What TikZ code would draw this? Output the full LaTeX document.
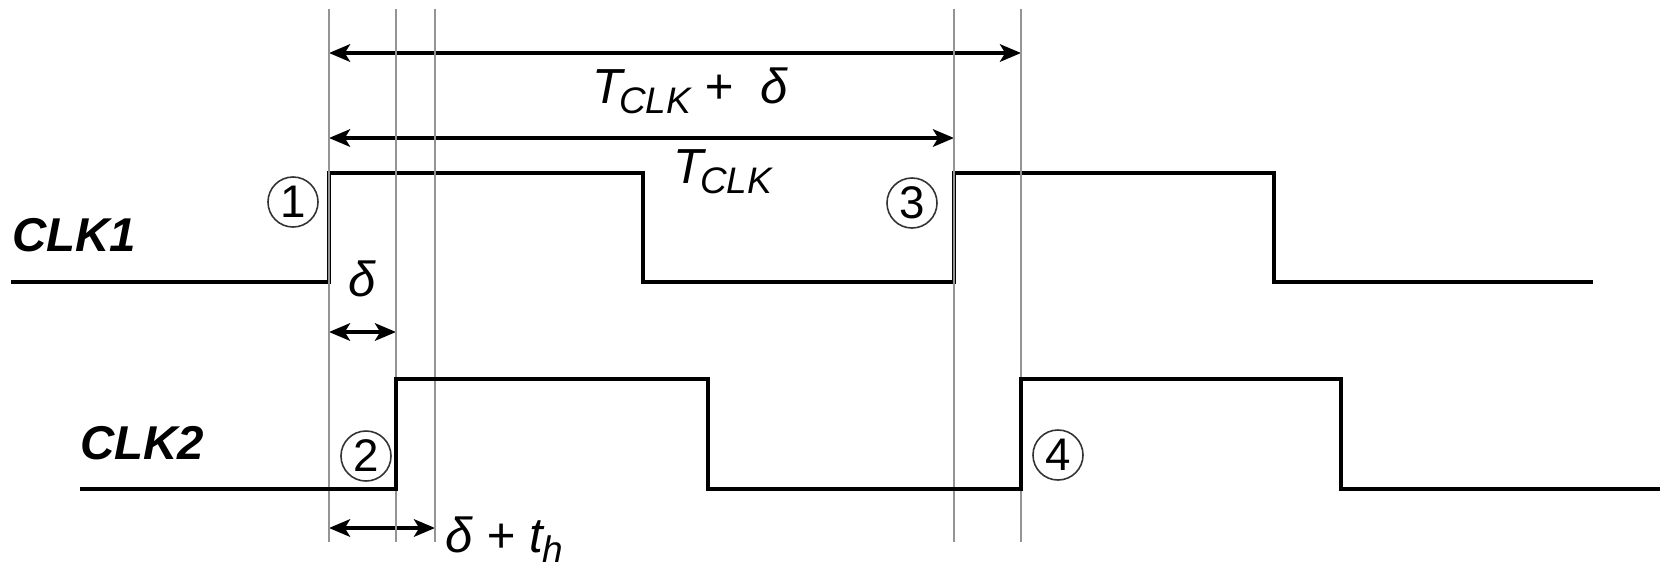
\documentclass[tikz,border=0pt]{standalone}
\usepackage{fontspec}
\setmainfont{Liberation Sans}
\usepackage{tikz}
\usetikzlibrary{arrows.meta, positioning}

\newcommand{\lowsub}[1]{\raisebox{-0.1cm}{\fontsize{10.5}{12}\selectfont #1}}

\begin{document}
\begin{tikzpicture}[x=0.01cm, y=-0.01cm]
	
	\tikzset{guide line/.style={draw=black!42, line width=0.7pt},
		signal line/.style={draw=black, line width=0.95pt},
		span arrow/.style={draw=black, line width=0.95pt,
			{Stealth[length=6pt, width=5pt, inset=1.5pt]}-{Stealth[length=6pt, width=5pt, inset=1.5pt]}
		},
		circled num/.style={circle, draw=black!80, line width=0.45pt,
			minimum size=0.5cm, inner sep=0pt,
			font=\fontsize{13}{13}\selectfont
		},
		clk label/.style={font=\fontsize{13.5}{15}\selectfont\bfseries\itshape},
		time label/.style={inner sep=0pt, font=\fontsize{14}{16}\selectfont\itshape}
	}
	
	\useasboundingbox (0,0) rectangle (1663,569);
	
	\draw[signal line] (11,282) -- (329,282) -- (329,173) -- (643,173) -- (643,282)
		-- (954,282) -- (954,173) -- (1274,173) -- (1274,282) -- (1593,282);
	
	\coordinate (a1) at (329,53);
	\coordinate (b1) at (1021,53);
	\coordinate (a2) at (329,138);
	\coordinate (b2) at (954,138);
	\coordinate (a3) at (329,332);
	\coordinate (b3) at (396,332);
	\coordinate (a4) at (329,528);
	\coordinate (b4) at (435,528);
	
	\draw[span arrow] (a1) -- (b1);
	\draw[span arrow] (a2) -- (b2);
	\draw[span arrow] (a3) -- (b3);
	\draw[span arrow] (a4) -- (b4);
	
	\foreach \x/\n in {329/1, 396/2, 435/3, 954/4, 1021/5} {
		\coordinate (top\n) at (\x,9);
		\coordinate (bot\n) at (\x,542);
		\draw[guide line] (top\n) -- (bot\n);
	}
	
	\draw[signal line] (80,489) -- (396,489) -- (396,379) -- (708,379) -- (708,489)
		-- (1021,489) -- (1021,379) -- (1341,379) -- (1341,489) -- (1660,489);
	
	\node[clk label] (clk1) at (74,235) {CLK1};
	\node[clk label] (clk2) at (142,443) {CLK2};
	
	\node[circled num] (n1) at (293,202) {1};
	\node[circled num] (n2) at (366,456) {2};
	\node[circled num] (n3) at (912,203) {3};
	\node[circled num] (n4) at (1058,455) {4};
	
	\node[time label, anchor=base west] (tsum) at (592,103) {T\kern-1pt\lowsub{CLK} +\hspace{0.27cm}δ};
	\node[time label, anchor=base west] (tclk) at (673,183) {T\kern-1pt\lowsub{CLK}};
	\node[time label] (dlt) at (362,279) {δ};
	\node[time label, anchor=base west] (dth) at (445,552) {δ + t\lowsub{h}};
	
\end{tikzpicture}
\end{document}
